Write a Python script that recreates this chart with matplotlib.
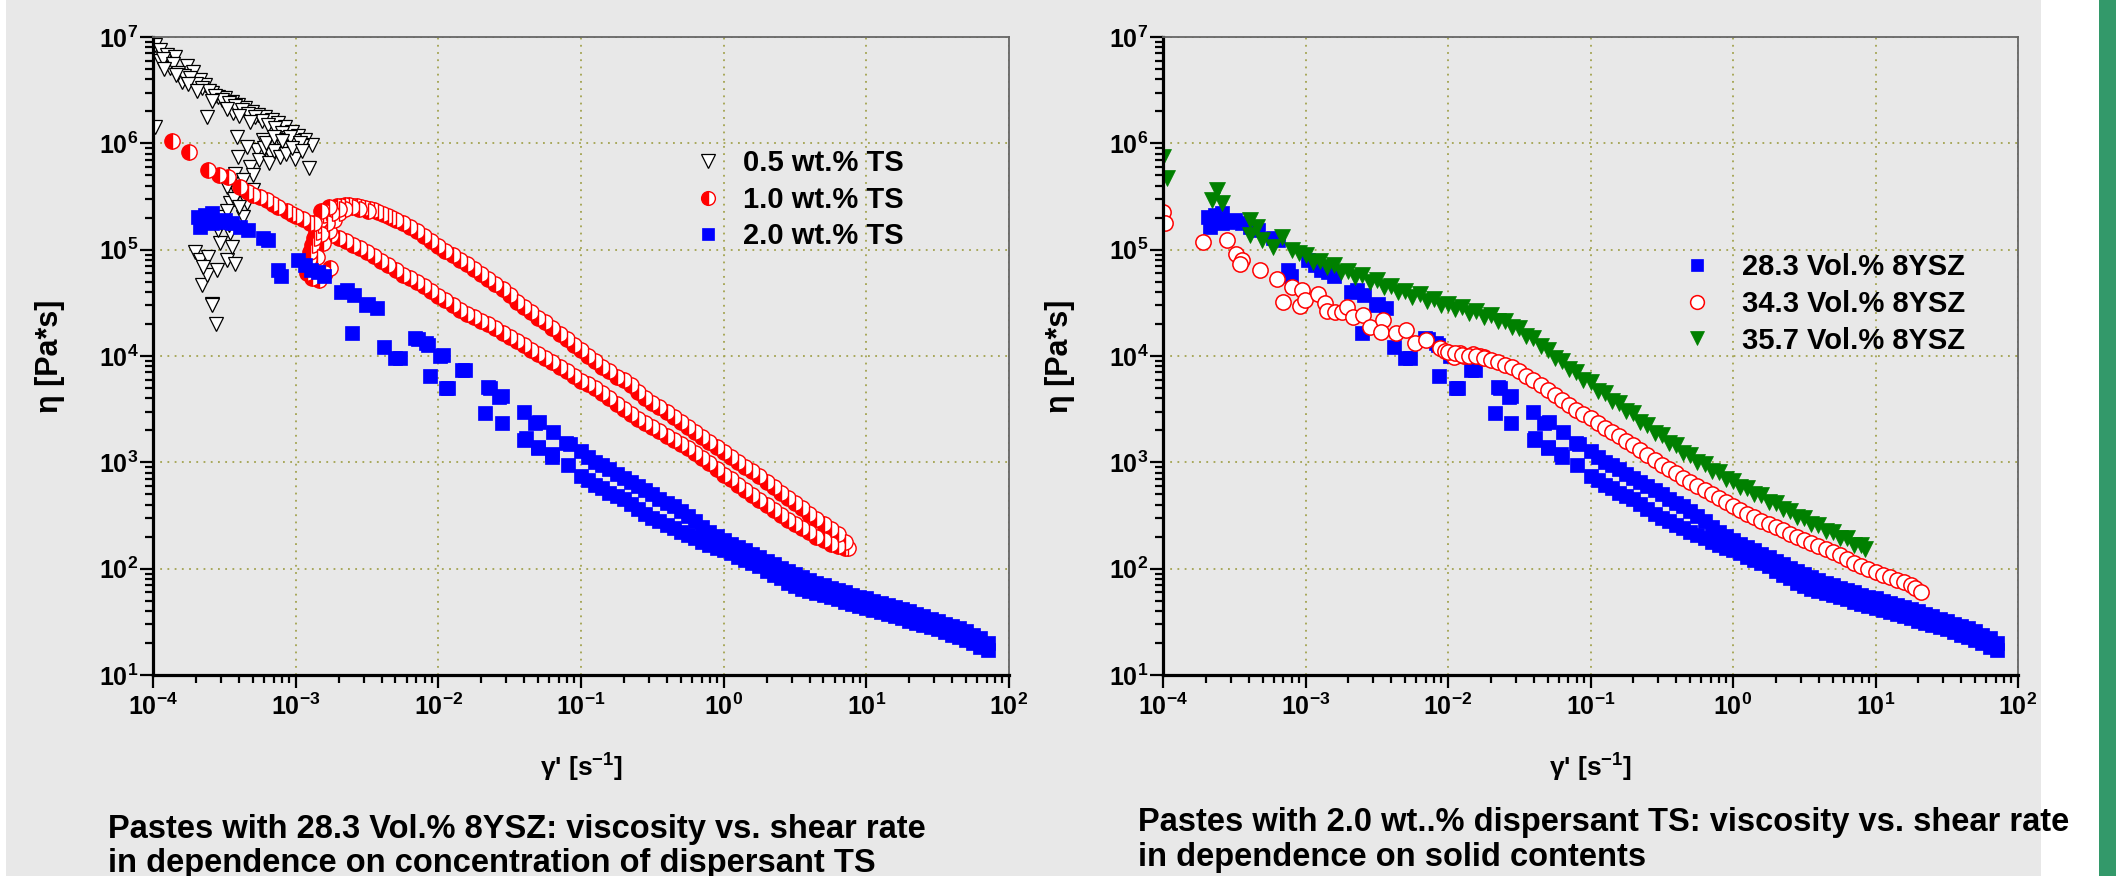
import matplotlib
matplotlib.use('Agg')
import matplotlib.pyplot as plt
from matplotlib.patches import Rectangle
from matplotlib.ticker import LogLocator, FuncFormatter, NullFormatter
import numpy as np

plt.rcParams['font.family'] = ['Liberation Sans', 'DejaVu Sans']
plt.rcParams['font.weight'] = 'bold'
plt.rcParams['mathtext.fontset'] = 'custom'
plt.rcParams['mathtext.rm'] = 'Liberation Sans:bold'
plt.rcParams['mathtext.bf'] = 'Liberation Sans:bold'
plt.rcParams['mathtext.it'] = 'Liberation Sans:bold'

# ---- data: shear rate [1/s], viscosity [Pa*s] ----

# 0.5 wt.% TS (28.3 Vol.% 8YSZ)
ts05_x = [1.03e-4, 1.03e-4, 1.12e-4, 1.12e-4, 1.25e-4, 1.31e-4, 1.43e-4, 1.59e-4, 1.72e-4, 1.92e-4,
          2.13e-4, 2.31e-4, 2.58e-4, 2.87e-4, 3.2e-4, 3.56e-4, 3.96e-4, 4.41e-4, 4.91e-4, 5.47e-4,
          6.09e-4, 6.79e-4, 7.55e-4, 8.41e-4, 9.37e-4, 1.04e-3, 1.16e-3, 1.31e-3, 1.24e-3, 9.9e-4,
          2.38e-4, 3.66e-4,
          1.18e-4, 1.37e-4, 1.5e-4, 1.65e-4, 1.82e-4, 2.0e-4, 2.22e-4, 2.45e-4, 2.72e-4, 3.05e-4,
          3.4e-4, 3.75e-4, 4.2e-4, 4.65e-4, 5.2e-4, 5.8e-4, 6.45e-4, 7.2e-4, 8.0e-4, 8.9e-4,
          9.8e-4, 1.1e-3, 1.2e-4, 1.45e-4, 1.75e-4, 2.05e-4, 2.6e-4, 3.3e-4, 4.0e-4, 4.8e-4,
          2.58e-4, 2.19e-4, 2.38e-4, 1.97e-4, 2.13e-4, 2.44e-4, 3.28e-4, 3.76e-4, 2.95e-4, 3.56e-4,
          2.87e-4, 3.11e-4, 3.47e-4, 3.86e-4, 4.53e-4, 3.28e-4, 3.76e-4, 3.96e-4, 3.86e-4, 4.79e-4,
          5.32e-4, 4.53e-4, 5.93e-4, 6.61e-4, 7.36e-4, 8.19e-4, 9.12e-4, 1.07e-3, 5.05e-4, 4.29e-4,
          3.47e-4, 2.79e-4, 2.25e-4, 2.77e-4, 2.6e-4,
          5.5e-4, 6.0e-4, 6.5e-4, 7.0e-4, 7.8e-4, 8.5e-4, 9.5e-4, 1.1e-3, 5.0e-4, 4.3e-4,
          6.2e-4, 7.0e-4, 8.0e-4, 3.7e-4, 4.0e-4, 3.3e-4, 3.0e-4, 3.4e-4]
ts05_y = [1.43e6, 8.4e6, 7.5e6, 5.9e6, 6.8e6, 5.1e6, 6.5e6, 3.8e6, 5.3e6, 4.7e6,
          3.9e6, 3.5e6, 2.95e6, 2.75e6, 2.65e6, 2.47e6, 2.3e6, 2.13e6, 1.98e6, 1.85e6,
          1.75e6, 1.65e6, 1.54e6, 1.41e6, 1.29e6, 1.17e6, 1.07e6, 9.6e5, 5.8e5, 7.2e5,
          1.78e6, 1.91e6,
          6.2e6, 5.6e6, 4.6e6, 4.3e6, 4.1e6, 3.6e6, 3.3e6, 3.1e6, 2.8e6, 2.55e6,
          2.4e6, 2.25e6, 2.05e6, 1.9e6, 1.75e6, 1.62e6, 1.5e6, 1.38e6, 1.25e6, 1.12e6,
          1.05e6, 9.5e5, 5.0e6, 4.4e6, 3.6e6, 3.1e6, 2.5e6, 2.1e6, 1.8e6, 1.6e6,
          3.1e4, 4.7e4, 5.8e4, 9.6e4, 8.0e4, 8.6e4, 8.0e4, 7.4e4, 1.15e5, 1.07e5,
          1.53e5, 2.04e5, 2.73e5, 3.39e5, 2.73e5, 3.91e5, 5.2e5, 7.5e5, 1.15e6, 6.0e5,
          8.6e5, 9.3e5, 1.07e6, 8.1e5, 1.07e6, 9.3e5, 1.15e6, 1.0e6, 3.64e5, 2.04e5,
          1.42e5, 6.4e4, 6.9e4, 2.0e4, 3.0e4,
          7.0e5, 9.0e5, 6.5e5, 8.5e5, 7.5e5, 8.0e5, 9.0e5, 8.5e5, 5.0e5, 4.5e5,
          1.0e6, 1.15e6, 1.05e6, 3.0e5, 2.5e5, 2.3e5, 1.8e5, 1.7e5]

# 1.0 wt.% TS, branch 1 (starts at the lowest rate)
ts10_x = [1.36e-4, 1.8e-4, 2.44e-4, 2.9e-4, 3.37e-4, 4.07e-4, 4.6e-4, 5.05e-4, 5.6e-4, 6.26e-4,
          6.9e-4, 7.55e-4, 8.65e-4, 9.4e-4,
          1.0e-3, 1.12e-3, 1.26e-3, 1.41e-3, 1.58e-3, 1.78e-3, 2.0e-3, 2.24e-3, 2.51e-3, 2.82e-3,
          3.16e-3, 3.55e-3, 3.98e-3, 4.47e-3, 5.01e-3, 5.62e-3, 6.31e-3, 7.08e-3, 7.94e-3, 8.91e-3,
          1.0e-2, 1.12e-2, 1.26e-2, 1.41e-2, 1.58e-2, 1.78e-2, 2.0e-2, 2.24e-2, 2.51e-2, 2.82e-2,
          3.16e-2, 3.55e-2, 3.98e-2, 4.47e-2, 5.01e-2, 5.62e-2, 6.31e-2, 7.08e-2, 7.94e-2, 8.91e-2,
          0.1, 0.112, 0.126, 0.141, 0.158, 0.178, 0.2, 0.224, 0.251, 0.282,
          0.316, 0.355, 0.398, 0.447, 0.501, 0.562, 0.631, 0.708, 0.794, 0.891,
          1.0, 1.12, 1.26, 1.41, 1.58, 1.78, 2.0, 2.24, 2.51, 2.82,
          3.16, 3.55, 3.98, 4.47, 5.01, 5.62, 6.31, 7.08, 7.45]
ts10_y = [1.05e6, 8.3e5, 5.6e5, 5.0e5, 4.86e5, 3.91e5, 3.5e5, 3.27e5, 3.1e5, 2.95e5,
          2.7e5, 2.53e5, 2.3e5, 2.15e5,
          2.07e5, 1.94e5, 1.78e5, 1.62e5, 1.5e5, 1.38e5, 1.28e5, 1.2e5, 1.11e5, 1.03e5,
          9.5e4, 8.7e4, 7.9e4, 7.1e4, 6.4e4, 5.8e4, 5.4e4, 5.0e4, 4.6e4, 4.1e4,
          3.7e4, 3.35e4, 3.0e4, 2.72e4, 2.5e4, 2.32e4, 2.15e4, 1.98e4, 1.82e4, 1.65e4,
          1.5e4, 1.37e4, 1.26e4, 1.15e4, 1.05e4, 9.6e3, 8.8e3, 7.9e3, 7.2e3, 6.5e3,
          5.85e3, 5.4e3, 4.95e3, 4.5e3, 4.0e3, 3.5e3, 3.15e3, 2.85e3, 2.58e3, 2.35e3,
          2.15e3, 1.95e3, 1.78e3, 1.62e3, 1.48e3, 1.35e3, 1.22e3, 1.1e3, 980, 860,
          760, 690, 610, 550, 495, 445, 395, 355, 320, 285,
          262, 240, 220, 199, 185, 170, 162, 157, 155]

# 1.0 wt.% TS, branch 2 (hump and upper line)
ts10b_x = [1.2e-3, 1.22e-3, 1.24e-3, 1.27e-3, 1.3e-3, 1.34e-3, 1.38e-3, 1.43e-3, 1.49e-3, 1.56e-3,
           1.64e-3, 1.73e-3, 1.83e-3, 1.95e-3, 2.08e-3, 2.22e-3, 2.37e-3, 2.53e-3, 2.7e-3, 2.88e-3,
           3.08e-3, 3.3e-3, 3.55e-3, 3.8e-3, 4.1e-3, 4.45e-3, 4.75e-3,
           1.3e-3, 1.45e-3, 1.6e-3, 1.75e-3, 1.4e-3, 1.55e-3, 1.7e-3, 1.85e-3, 2.0e-3, 2.2e-3,
           2.5e-3, 1.5e-3, 1.65e-3, 1.8e-3, 2.0e-3, 2.8e-3, 3.2e-3, 1.35e-3, 1.5e-3, 1.7e-3,
           5.01e-3, 5.62e-3, 6.31e-3, 7.08e-3, 7.94e-3, 8.91e-3, 1.0e-2, 1.12e-2, 1.26e-2, 1.41e-2,
           1.58e-2, 1.78e-2, 2.0e-2, 2.24e-2, 2.51e-2, 2.82e-2, 3.16e-2, 3.55e-2, 3.98e-2, 4.47e-2,
           5.01e-2, 5.62e-2, 6.31e-2, 7.08e-2, 7.94e-2, 8.91e-2, 0.1, 0.112, 0.126, 0.141,
           0.158, 0.178, 0.2, 0.224, 0.251, 0.282, 0.316, 0.355, 0.398, 0.447,
           0.501, 0.562, 0.631, 0.708, 0.794, 0.891, 1.0, 1.12, 1.26, 1.41,
           1.58, 1.78, 2.0, 2.24, 2.51, 2.82, 3.16, 3.55, 3.98, 4.47,
           5.01, 5.62, 6.31, 7.08]
ts10b_y = [6.0e4, 7.0e4, 8.2e4, 9.6e4, 1.1e5, 1.28e5, 1.48e5, 1.7e5, 1.92e5, 2.1e5,
           2.25e5, 2.38e5, 2.48e5, 2.55e5, 2.6e5, 2.62e5, 2.62e5, 2.6e5, 2.56e5, 2.52e5,
           2.47e5, 2.41e5, 2.34e5, 2.27e5, 2.18e5, 2.08e5, 2.0e5,
           5.4e4, 5.2e4, 6.0e4, 6.7e4, 8.5e4, 1.15e5, 1.5e5, 1.9e5, 2.2e5, 2.4e5,
           2.5e5, 1.4e5, 1.8e5, 2.2e5, 2.4e5, 2.4e5, 2.3e5, 1.8e5, 2.3e5, 2.5e5,
           1.92e5, 1.78e5, 1.63e5, 1.49e5, 1.35e5, 1.21e5, 1.09e5, 9.8e4, 8.9e4, 8.0e4,
           7.3e4, 6.6e4, 5.9e4, 5.3e4, 4.8e4, 4.3e4, 3.75e4, 3.2e4, 2.9e4, 2.6e4,
           2.3e4, 2.07e4, 1.85e4, 1.62e4, 1.44e4, 1.28e4, 1.14e4, 1.0e4, 8.9e3, 7.95e3,
           7.15e3, 6.4e3, 5.95e3, 5.3e3, 4.6e3, 4.05e3, 3.65e3, 3.3e3, 2.95e3, 2.65e3,
           2.4e3, 2.15e3, 1.92e3, 1.72e3, 1.55e3, 1.4e3, 1.26e3, 1.13e3, 1.0e3, 910,
           820, 740, 656, 585, 515, 460, 415, 370, 330, 296,
           265, 238, 210, 180]

# 2.0 wt.% TS = 28.3 Vol.% 8YSZ (the same sample appears in both panels)
ts20_x = [2.08e-4, 2.31e-4, 2.58e-4, 2.13e-4, 2.58e-4, 2.87e-4, 3.2e-4, 3.56e-4, 4.07e-4, 4.66e-4,
          5.93e-4, 6.43e-4, 7.55e-4, 7.85e-4, 1.04e-3, 1.16e-3, 1.29e-3, 1.44e-3, 1.58e-3, 2.07e-3,
          2.28e-3, 2.56e-3, 3.11e-3, 3.23e-3, 3.69e-3, 2.48e-3, 4.16e-3, 4.97e-3, 5.38e-3, 6.86e-3,
          7.25e-3, 8.2e-3, 8.5e-3, 1.03e-2, 1.08e-2, 8.7e-3, 1.13e-2, 1.17e-2, 1.46e-2, 1.54e-2,
          2.23e-2, 2.3e-2, 2.66e-2, 2.78e-2, 2.12e-2, 2.78e-2, 3.98e-2, 4.75e-2, 5.1e-2, 6.38e-2,
          4.01e-2, 4.11e-2, 5.0e-2, 5.02e-2, 6.22e-2, 6.29e-2, 7.88e-2, 8.1e-2, 8.36e-2,
          # upper branch
          0.1, 0.112, 0.126, 0.141, 0.158, 0.178, 0.2, 0.224, 0.251, 0.282,
          0.316, 0.355, 0.398, 0.447, 0.501, 0.562, 0.631, 0.708, 0.794, 0.891,
          1.0, 1.12, 1.26, 1.41, 1.58, 1.78, 2.0, 2.24, 2.51, 2.82,
          3.16, 3.55, 3.98, 4.47, 5.01, 5.62, 6.31, 7.08, 7.94, 8.91,
          10.0, 11.2, 12.6, 14.1, 15.8, 17.8, 20.0, 22.4, 25.1, 28.2,
          31.6, 35.5, 39.8, 44.7, 50.1, 56.2, 63.1, 70.8,
          # lower branch
          0.1, 0.112, 0.126, 0.141, 0.158, 0.178, 0.2, 0.224, 0.251, 0.282,
          0.316, 0.355, 0.398, 0.447, 0.501, 0.562, 0.631, 0.708, 0.794, 0.891,
          1.0, 1.12, 1.26, 1.41, 1.58, 1.78, 2.0, 2.24, 2.51, 2.82,
          3.16, 3.55, 3.98, 4.47, 5.01, 5.62, 6.31, 7.08, 7.94, 8.91,
          10.0, 11.2, 12.6, 14.1, 15.8, 17.8, 20.0, 22.4, 25.1, 28.2,
          31.6, 35.5, 39.8, 44.7, 50.1, 56.2, 63.1, 70.8]
ts20_y = [2.04e5, 2.12e5, 2.2e5, 1.64e5, 1.77e5, 1.83e5, 1.9e5, 1.77e5, 1.64e5, 1.53e5,
          1.28e5, 1.23e5, 6.4e4, 5.65e4, 8.0e4, 7.2e4, 6.5e4, 6.1e4, 5.6e4, 4.0e4,
          4.17e4, 3.74e4, 3.0e4, 3.1e4, 2.8e4, 1.64e4, 1.21e4, 9.5e3, 9.5e3, 1.47e4,
          1.46e4, 1.32e4, 1.27e4, 1.0e4, 1.02e4, 6.5e3, 5.0e3, 4.96e3, 7.4e3, 7.4e3,
          5.1e3, 4.96e3, 4.1e3, 4.2e3, 2.88e3, 2.35e3, 3.0e3, 2.32e3, 2.4e3, 1.94e3,
          1.62e3, 1.68e3, 1.4e3, 1.35e3, 1.19e3, 1.13e3, 1.51e3, 940, 1.5e3,
          1280, 1120, 1005, 935, 865, 780, 705, 650, 595, 545,
          500, 455, 418, 385, 350, 312, 278, 245, 222, 205,
          188, 172, 160, 149, 138, 128, 118, 110, 102, 96,
          90, 84, 79, 74, 70, 66, 63, 60, 57, 54.5,
          52.5, 50, 48, 46, 44, 42, 40, 37.5, 35.5, 33.5,
          32, 30.5, 29, 27.5, 26, 24, 22.5, 20,
          740, 680, 610, 570, 520, 485, 450, 410, 365, 330,
          300, 278, 258, 240, 222, 207, 193, 180, 168, 158,
          149, 139, 130, 121, 113, 105, 96, 88, 81, 74,
          69, 65, 62, 59, 56.5, 54, 51.5, 49, 47, 45,
          43, 41, 39, 37.5, 36, 34, 32.5, 31, 29.8, 28.4,
          27, 25.5, 24, 22.8, 21.2, 19.8, 18.2, 17]

# 34.3 Vol.% 8YSZ (2.0 wt.% TS)
v343_x = [1.0e-4, 1.03e-4, 1.92e-4, 2.83e-4, 3.25e-4, 3.56e-4, 3.47e-4, 4.79e-4, 6.33e-4, 7.98e-4,
          9.38e-4, 6.98e-4, 9.14e-4, 9.9e-4, 1.23e-3, 1.37e-3, 1.41e-3, 1.61e-3, 1.79e-3, 1.94e-3,
          2.16e-3, 2.54e-3, 2.83e-3, 3.51e-3, 3.41e-3, 4.35e-3, 5.11e-3, 5.85e-3, 7.06e-3, 8.76e-3,
          9.5e-3, 1.1e-2, 1.21e-2, 1.3e-2, 1.5e-2, 1.67e-2, 1.8e-2,
          1.0e-2, 1.12e-2, 1.26e-2, 1.41e-2, 1.58e-2, 1.78e-2, 2.0e-2, 2.24e-2, 2.51e-2, 2.82e-2,
          3.16e-2, 3.55e-2, 3.98e-2, 4.47e-2, 5.01e-2, 5.62e-2, 6.31e-2, 7.08e-2, 7.94e-2, 8.91e-2,
          0.1, 0.112, 0.126, 0.141, 0.158, 0.178, 0.2, 0.224, 0.251, 0.282,
          0.316, 0.355, 0.398, 0.447, 0.501, 0.562, 0.631, 0.708, 0.794, 0.891,
          1.0, 1.12, 1.26, 1.41, 1.58, 1.78, 2.0, 2.24, 2.51, 2.82,
          3.16, 3.55, 3.98, 4.47, 5.01, 5.62, 6.31, 7.08, 7.94, 8.91,
          10.0, 11.2, 12.6, 14.1, 15.8, 17.8, 19.0, 20.9]
v343_y = [2.28e5, 1.77e5, 1.19e5, 1.23e5, 9.2e4, 8.0e4, 7.4e4, 6.5e4, 5.3e4, 4.5e4,
          4.2e4, 3.2e4, 2.98e4, 3.37e4, 3.83e4, 3.13e4, 2.67e4, 2.61e4, 2.61e4, 2.91e4,
          2.34e4, 2.43e4, 1.89e4, 2.18e4, 1.69e4, 1.63e4, 1.76e4, 1.32e4, 1.41e4, 1.18e4,
          1.12e4, 9.8e3, 1.06e4, 1.0e4, 1.05e4, 1.0e4, 9.8e3,
          1.1e4, 1.06e4, 1.03e4, 1.01e4, 9.9e3, 9.6e3, 9.2e3, 8.8e3, 8.3e3, 7.8e3,
          7.2e3, 6.5e3, 5.9e3, 5.3e3, 4.75e3, 4.3e3, 3.85e3, 3.45e3, 3.1e3, 2.85e3,
          2.6e3, 2.35e3, 2.12e3, 1.92e3, 1.76e3, 1.6e3, 1.45e3, 1.3e3, 1.17e3, 1.05e3,
          942, 860, 787, 720, 656, 600, 548, 505, 465, 425,
          390, 360, 330, 305, 282, 262, 245, 230, 214, 200,
          187, 175, 163, 152, 142, 133, 122, 114, 106, 99,
          94, 88, 83.7, 79, 75, 70, 66, 60.5]

# 35.7 Vol.% 8YSZ (2.0 wt.% TS)
v357_x = [1.0e-4, 1.06e-4, 2.38e-4, 2.19e-4, 2.58e-4, 4.07e-4, 4.54e-4, 4.07e-4, 4.92e-4, 5.94e-4,
          6.8e-4, 7.98e-4, 9.0e-4,
          1.0e-3, 1.12e-3, 1.26e-3, 1.41e-3, 1.58e-3, 1.78e-3, 2.0e-3, 2.24e-3, 2.51e-3, 2.82e-3,
          3.16e-3, 3.55e-3, 3.98e-3, 4.47e-3, 5.01e-3, 5.62e-3, 6.31e-3, 7.08e-3, 7.94e-3, 8.91e-3,
          1.0e-2, 1.12e-2, 1.26e-2, 1.41e-2, 1.58e-2, 1.78e-2, 2.0e-2, 2.24e-2, 2.51e-2, 2.82e-2,
          3.16e-2, 3.55e-2, 3.98e-2, 4.47e-2, 5.01e-2, 5.62e-2, 6.31e-2, 7.08e-2, 7.94e-2, 8.91e-2,
          0.1, 0.112, 0.126, 0.141, 0.158, 0.178, 0.2, 0.224, 0.251, 0.282,
          0.316, 0.355, 0.398, 0.447, 0.501, 0.562, 0.631, 0.708, 0.794, 0.891,
          1.0, 1.12, 1.26, 1.41, 1.58, 1.78, 2.0, 2.24, 2.51, 2.82,
          3.16, 3.55, 3.98, 4.47, 5.01, 5.62, 6.31, 7.08, 7.94, 8.5]
v357_y = [7.5e5, 4.68e5, 3.64e5, 2.93e5, 2.73e5, 1.9e5, 1.62e5, 1.37e5, 1.23e5, 1.07e5,
          1.31e5, 9.9e4, 9.4e4,
          9.0e4, 7.6e4, 7.9e4, 6.8e4, 7.1e4, 6.1e4, 6.3e4, 5.5e4, 5.8e4, 5.0e4,
          5.2e4, 4.5e4, 4.6e4, 4.0e4, 4.1e4, 3.6e4, 3.8e4, 3.3e4, 3.45e4, 3.0e4,
          3.1e4, 2.75e4, 2.9e4, 2.55e4, 2.65e4, 2.35e4, 2.45e4, 2.15e4, 2.15e4, 1.88e4,
          1.85e4, 1.55e4, 1.48e4, 1.25e4, 1.13e4, 9.5e3, 9.0e3, 7.5e3, 7.1e3, 5.95e3,
          5.65e3, 4.7e3, 4.5e3, 3.8e3, 3.65e3, 3.02e3, 2.88e3, 2.4e3, 2.25e3, 1.88e3,
          1.8e3, 1.51e3, 1.46e3, 1.23e3, 1.18e3, 1.0e3, 975, 835, 810, 695,
          670, 585, 575, 500, 495, 425, 415, 362, 352, 308,
          302, 262, 258, 226, 223, 196, 194, 168, 166, 152]

left_labels = ['0.5 wt.% TS', '1.0 wt.% TS', '2.0 wt.% TS']
right_labels = ['28.3 Vol.% 8YSZ', '34.3 Vol.% 8YSZ', '35.7 Vol.% 8YSZ']
caption_left = ['Pastes with 28.3 Vol.% 8YSZ: viscosity vs. shear rate',
                'in dependence on concentration of dispersant TS']
caption_right = ['Pastes with 2.0 wt..% dispersant TS: viscosity vs. shear rate',
                 'in dependence on solid contents']

W, H = 2116, 876
BG = '#e8e8e8'
GRID = '#a3a350'

fig = plt.figure(figsize=(W / 100, H / 100), dpi=100)
fig.patch.set_facecolor('white')
fig.add_artist(Rectangle((6 / W, 0), (2041 - 6) / W, 1, transform=fig.transFigure,
                         facecolor=BG, edgecolor='none', zorder=-10))
fig.add_artist(Rectangle((2099 / W, 0), (W - 2099) / W, 1, transform=fig.transFigure,
                         facecolor='#33996a', edgecolor='none', zorder=-10))


def px(x, y):
    return x / W, 1 - y / H


def logfmt(v, pos):
    return r'$\mathbf{10^{%d}}$' % int(round(np.log10(v)))


def setup(ax):
    ax.set_facecolor(BG)
    ax.set_xscale('log')
    ax.set_yscale('log')
    ax.set_xlim(1e-4, 1e2)
    ax.set_ylim(1e1, 1e7)
    for a in (ax.xaxis, ax.yaxis):
        a.set_major_locator(LogLocator(base=10, numticks=20))
        a.set_minor_locator(LogLocator(base=10, subs=np.arange(2, 10), numticks=20))
        a.set_major_formatter(FuncFormatter(logfmt))
        a.set_minor_formatter(NullFormatter())
    ax.tick_params(which='both', direction='out', top=False, right=False, width=1.6, colors='black')
    ax.tick_params(which='major', length=9.5, labelsize=18)
    ax.tick_params(which='minor', length=5.5)
    ax.tick_params(axis='x', which='major', pad=4)
    ax.tick_params(axis='y', which='major', pad=1)
    for s in ('left', 'bottom'):
        ax.spines[s].set_linewidth(2.3)
        ax.spines[s].set_color('black')
    for s in ('top', 'right'):
        ax.spines[s].set_linewidth(1.3)
        ax.spines[s].set_color('#666666')
    ax.grid(True, which='major', color=GRID, linestyle=(0, (1, 3)), linewidth=1.3)
    ax.set_axisbelow(True)


ax1 = fig.add_axes([153 / W, 1 - 675 / H, (1009 - 153) / W, (675 - 37) / H])
ax2 = fig.add_axes([1163 / W, 1 - 675 / H, (2018 - 1163) / W, (675 - 37) / H])
setup(ax1)
setup(ax2)

# left panel
ax1.plot(ts05_x, ts05_y, 'v', ls='none', ms=10.5, mfc='white', mec='black', mew=0.9,
         label=left_labels[0])
ax1.plot(ts10_x + ts10b_x, ts10_y + ts10b_y, 'o', ls='none', ms=11, fillstyle='left',
         mfc='red', mfcalt='white', mec='red', mew=1.0, label=left_labels[1])
ax1.plot(ts20_x, ts20_y, 's', ls='none', ms=9.8, mfc='blue', mec='blue', mew=0.5,
         label=left_labels[2])

# right panel
ax2.plot(ts20_x, ts20_y, 's', ls='none', ms=9.8, mfc='blue', mec='blue', mew=0.5,
         label=right_labels[0])
ax2.plot(v343_x, v343_y, 'o', ls='none', ms=11, mfc='white', mec='red', mew=1.1,
         label=right_labels[1])
ax2.plot(v357_x, v357_y, 'v', ls='none', ms=11, mfc='green', mec='green', mew=0.5,
         label=right_labels[2])

leg_kw = dict(frameon=False, handlelength=1.0, borderpad=0, borderaxespad=0,
              labelspacing=0.3, loc='upper left', bbox_transform=fig.transFigure,
              markerscale=0.9, prop={'weight': 'bold', 'size': 21})
ax1.legend(bbox_to_anchor=px(693, 149), handletextpad=0.7, **leg_kw)
ax2.legend(bbox_to_anchor=px(1682, 253), handletextpad=1.04, **leg_kw)

# axis labels
for cx in (581, 1590):
    fig.text(*px(cx, 768), r"γ' [s$^{\mathbf{-1}}$]", ha='center', va='center',
             fontsize=19, fontweight='bold')
for cx in (50, 1060):
    fig.text(*px(cx, 356), 'η [Pa*s]', ha='center', va='center', rotation=90,
             fontsize=22, fontweight='bold')

# captions
fig.text(*px(108, 838), caption_left[0], ha='left', va='baseline', fontsize=23.5, fontweight='bold')
fig.text(*px(108, 872), caption_left[1], ha='left', va='baseline', fontsize=23.5, fontweight='bold')
fig.text(*px(1138, 831), caption_right[0], ha='left', va='baseline', fontsize=23.5, fontweight='bold')
fig.text(*px(1138, 866), caption_right[1], ha='left', va='baseline', fontsize=23.5, fontweight='bold')

fig.savefig('out.png', dpi=100, facecolor=fig.get_facecolor())
